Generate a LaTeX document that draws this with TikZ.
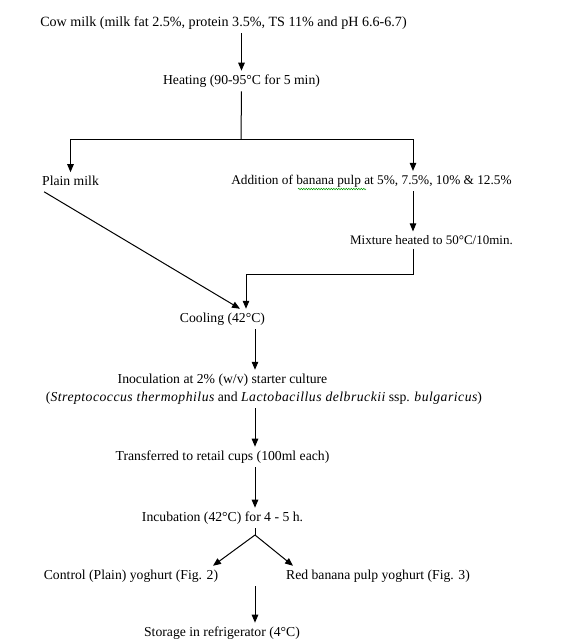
\documentclass[tikz,border=0pt]{standalone}
\usepackage{fontspec}
\setmainfont{Liberation Serif}
\usetikzlibrary{arrows.meta,decorations.pathmorphing}
\newcommand{\spit}[1]{{\itshape\addfontfeatures{LetterSpace=3.6}#1}}
\begin{document}
\begin{tikzpicture}[x=1pt,y=-1pt,
  lbl/.style={inner sep=0pt, outer sep=4pt, font=\fontsize{13.7}{15}\selectfont},
  arr/.style={-{Triangle[length=8pt,width=6.5pt]}, line width=1pt},
  ln/.style={line width=1pt}]
\useasboundingbox[fill=white] (0,0) rectangle (577,641);
% text nodes
\node[lbl, font=\fontsize{14.1}{15}\selectfont] (cow) at (223.5,23) {Cow milk (milk fat 2.5\%, protein 3.5\%, TS 11\% and pH 6.6-6.7)};
\node[lbl] (heat) at (241.5,81) {Heating (90-95°C for 5 min)};
\node[lbl] (plain) at (70.5,181) {Plain milk};
\node[lbl, font=\fontsize{13.3}{15}\selectfont] (add) at (371.5,181) {Addition of banana pulp at 5\%, 7.5\%, 10\% \& 12.5\%};
\node[lbl, font=\fontsize{13}{15}\selectfont] (mix) at (431.5,240) {Mixture heated to 50°C/10min.};
\node[lbl] (cool) at (222.5,319) {Cooling (42°C)};
\node[lbl] (inoc1) at (222.5,380) {Inoculation at 2\% (w/v) starter culture};
\node[lbl] (inoc2) at (264,398) {(\spit{Streptococcus thermophilus} and \spit{Lactobacillus delbruckii} ssp. \spit{bulgaricus})};
\node[lbl] (trans) at (222.5,457) {Transferred to retail cups (100ml each)};
\node[lbl] (incub) at (222.5,518) {Incubation (42°C) for 4 - 5 h.};
\node[lbl] (ctrl) at (131,576) {Control (Plain) yoghurt (Fig. 2)};
\node[lbl] (red) at (378,576) {Red banana pulp yoghurt (Fig. 3)};
\node[lbl] (store) at (222,633) {Storage in refrigerator (4°C)};
% helper coordinates
\coordinate (sp) at (241,139);
\coordinate (rx) at (413,0);
\coordinate (cj) at (246,274);
\coordinate (vx) at (255,0);
\coordinate (br) at (255,535);
\coordinate (lx) at (213,0);
\coordinate (rrx) at (293,0);
% connectors
\draw[arr] (cow.south -| heat.north) -- (heat.north);
\draw[ln] (heat.south) -- (sp);
\draw[arr] (sp) -| (plain.north);
\draw[arr] (sp) -| (add.north -| rx);
\draw[arr] (add.south -| rx) -- (mix.north -| rx);
\draw[arr] (mix.south -| rx) |- (cj) -- (cool.north -| cj);
\draw[arr] ([xshift=6pt,yshift=-2pt]plain.south west) -- ([xshift=-6pt]cool.north -| cj);
\draw[arr] (cool.south -| vx) -- (inoc1.north -| vx);
\draw[arr] (inoc2.south -| vx) -- (trans.north -| vx);
\draw[arr] (trans.south -| vx) -- (incub.north -| vx);
\draw[ln] (incub.south -| vx) -- (br);
\draw[arr] (br) -- (ctrl.north -| lx);
\draw[arr] (br) -- (red.north -| rrx);
\draw[arr] (ctrl.south -| vx) -- (store.north -| vx);
% spell-check squiggle
\draw[green!60!black, line width=0.5pt, decorate, decoration={snake, amplitude=0.7pt, segment length=2.5pt}] (298,189) -- (366,189);
\end{tikzpicture}
\end{document}
